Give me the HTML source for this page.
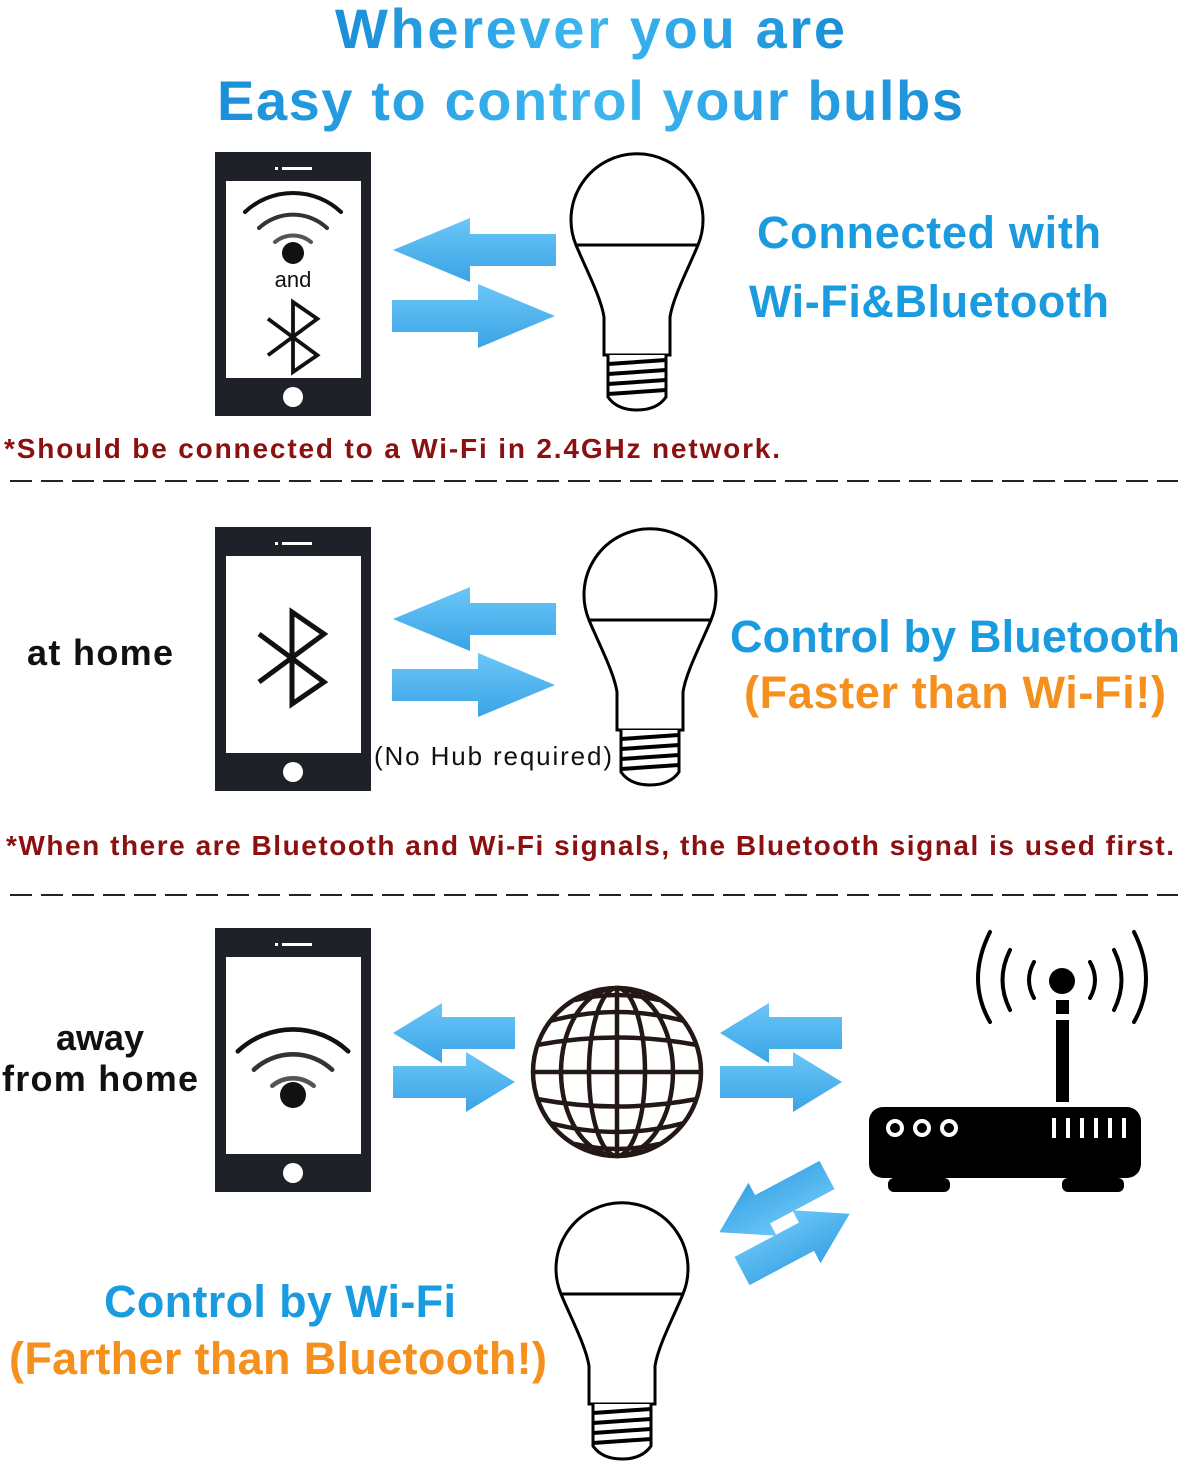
<!DOCTYPE html>
<html><head><meta charset="utf-8"><style>
html,body{margin:0;padding:0;background:#fff}
svg{display:block}
text{font-family:"Liberation Sans","DejaVu Sans",sans-serif;font-weight:bold}
</style></head><body>
<svg width="1182" height="1466" viewBox="0 0 1182 1466" xmlns="http://www.w3.org/2000/svg">
<defs>
<linearGradient id="ag" x1="0" y1="0" x2="0" y2="1"><stop offset="0" stop-color="#6cc6f7"/><stop offset="1" stop-color="#3aa4e6"/></linearGradient>
<linearGradient id="tg" x1="0" y1="0" x2="1" y2="0"><stop offset="0" stop-color="#1a8fd8"/><stop offset="0.5" stop-color="#3db7f0"/><stop offset="1" stop-color="#1a8fd8"/></linearGradient>
<g id="arR"><path d="M0,-16 L86,-16 L86,-32 L163,0 L86,32 L86,16 L0,16 Z" fill="url(#ag)"/></g>
<g id="arRs"><path d="M0,-16 L73,-16 L73,-30 L122,0 L73,30 L73,16 L0,16 Z" fill="url(#ag)"/></g>
<g id="phone">
<rect x="0" y="0" width="156" height="264" fill="#1e2127"/>
<rect x="11" y="29" width="135" height="197" fill="#fff"/>
<rect x="67" y="15" width="30" height="3" fill="#fff"/><rect x="60" y="15" width="3" height="3" fill="#fff"/>
<circle cx="78" cy="245" r="10" fill="#fff"/>
</g>
<g id="bulb" fill="none" stroke="#000" stroke-width="3">
<path d="M-61,93 A66,66 0 1 1 61,93 C52,115 36,145 33,165 L33,203 L-33,203 L-33,165 C-36,145 -52,115 -61,93 Z" fill="#fff"/>
<line x1="-61" y1="93" x2="61" y2="93"/>
<path d="M-29,203 L-29,245 Q-20,258 0,258 Q20,258 29,245 L29,203" fill="#fff"/>
<line x1="-29" y1="212" x2="29" y2="208" stroke-width="4"/>
<line x1="-29" y1="222" x2="29" y2="218" stroke-width="4"/>
<line x1="-29" y1="232" x2="29" y2="228" stroke-width="4"/>
<line x1="-29" y1="242" x2="29" y2="238" stroke-width="4"/>
</g>
<g id="bt" fill="none" stroke="#111" stroke-width="5" stroke-linejoin="miter">
<path d="M-33,-24 L32,24 L0,46 L0,-46 L32,-24 L-33,24"/>
</g>
<g id="wifi" fill="none" stroke="#111" stroke-linecap="round">
<path d="M-48,-18 A70,70 0 0 1 48,-18" stroke-width="4"/>
<path d="M-34,-2 A50,50 0 0 1 34,-2" stroke-width="4" stroke="#333"/>
<path d="M-18,12 A28,28 0 0 1 18,12" stroke-width="4" stroke="#555"/>
</g>
</defs>

<text x="590" y="48" font-size="56" fill="url(#tg)" text-anchor="middle" textLength="510">Wherever you are</text>
<text x="590" y="120" font-size="56" fill="url(#tg)" text-anchor="middle" textLength="746">Easy to control your bulbs</text>

<use href="#phone" x="215" y="152"/>
<g transform="translate(293,230)"><use href="#wifi"/></g>
<circle cx="293" cy="253" r="11" fill="#111"/>
<text x="293" y="287" font-size="22" text-anchor="middle" fill="#111" style="font-weight:normal">and</text>
<g transform="translate(293,337) scale(0.76)"><use href="#bt"/></g>
<g transform="translate(556,250) scale(-1,1)"><use href="#arR"/></g>
<g transform="translate(392,316)"><use href="#arR"/></g>
<use href="#bulb" x="637" y="152"/>
<text x="929" y="248" font-size="45" fill="#1a9be0" text-anchor="middle" textLength="344">Connected with</text>
<text x="929" y="317" font-size="45" fill="#1a9be0" text-anchor="middle" textLength="360">Wi-Fi&amp;Bluetooth</text>
<text x="4" y="458" font-size="28" fill="#8b1010" textLength="776">*Should be connected to a Wi-Fi in 2.4GHz network.</text>
<line x1="10" y1="481" x2="1178" y2="481" stroke="#222" stroke-width="2" stroke-dasharray="22,9"/>

<text x="100" y="665" font-size="36" fill="#111" text-anchor="middle" textLength="146">at home</text>
<use href="#phone" x="215" y="527"/>
<g transform="translate(292,658)"><use href="#bt"/></g>
<g transform="translate(556,619) scale(-1,1)"><use href="#arR"/></g>
<g transform="translate(392,685)"><use href="#arR"/></g>
<text x="374" y="765" font-size="26" fill="#111" style="font-weight:normal" textLength="238">(No Hub required)</text>
<use href="#bulb" x="650" y="527"/>
<text x="955" y="652" font-size="45" fill="#1a9be0" text-anchor="middle" textLength="450">Control by Bluetooth</text>
<text x="955" y="708" font-size="45" fill="#f5901e" text-anchor="middle" textLength="422">(Faster than Wi-Fi!)</text>
<text x="6" y="855" font-size="28" fill="#8b1010" textLength="1168">*When there are Bluetooth and Wi-Fi signals, the Bluetooth signal is used first.</text>
<line x1="10" y1="895" x2="1178" y2="895" stroke="#222" stroke-width="2" stroke-dasharray="22,9"/>

<text x="100" y="1050" font-size="36" fill="#111" text-anchor="middle">away</text>
<text x="100" y="1091" font-size="36" fill="#111" text-anchor="middle" textLength="196">from home</text>
<use href="#phone" x="215" y="928"/>
<g transform="translate(293,1072) scale(1.15)"><use href="#wifi"/></g>
<circle cx="293" cy="1095" r="13" fill="#111"/>
<g transform="translate(515,1033) scale(-1,1)"><use href="#arRs"/></g>
<g transform="translate(393,1082)"><use href="#arRs"/></g>
<g transform="translate(842,1033) scale(-1,1)"><use href="#arRs"/></g>
<g transform="translate(720,1082)"><use href="#arRs"/></g>
<g fill="none" stroke="#231815" stroke-width="4.5">
<circle cx="617" cy="1072" r="84"/>
<line x1="533" y1="1072" x2="701" y2="1072"/>
<line x1="617" y1="988" x2="617" y2="1156"/>
<ellipse cx="617" cy="1072" rx="28" ry="84"/>
<ellipse cx="617" cy="1072" rx="56" ry="84"/>
<path d="M550,1021 Q617,1003 684,1021"/>
<path d="M537,1045 Q617,1030 697,1045"/>
<path d="M537,1099 Q617,1114 697,1099"/>
<path d="M550,1123 Q617,1141 684,1123"/>
<path d="M575,1000 Q617,990 659,1000"/>
<path d="M575,1144 Q617,1154 659,1144"/>
</g>
<g transform="translate(827,1175) rotate(152)"><use href="#arRs"/></g>
<g transform="translate(742,1271) rotate(-28)"><use href="#arRs"/></g>
<rect x="869" y="1107" width="272" height="71" rx="14" fill="#000"/>
<rect x="888" y="1178" width="62" height="14" rx="6" fill="#000"/>
<rect x="1062" y="1178" width="62" height="14" rx="6" fill="#000"/>
<g fill="none" stroke="#fff" stroke-width="4"><circle cx="895" cy="1128" r="7"/><circle cx="922" cy="1128" r="7"/><circle cx="949" cy="1128" r="7"/></g>
<g fill="#fff"><rect x="1052" y="1118" width="4" height="20"/><rect x="1066" y="1118" width="4" height="20"/><rect x="1080" y="1118" width="4" height="20"/><rect x="1094" y="1118" width="4" height="20"/><rect x="1108" y="1118" width="4" height="20"/><rect x="1122" y="1118" width="4" height="20"/></g>
<rect x="1056" y="1020" width="13" height="82" fill="#000"/>
<rect x="1056" y="1000" width="13" height="14" fill="#000"/>
<circle cx="1062" cy="981" r="13" fill="#000"/>
<g fill="none" stroke="#000" stroke-width="4" stroke-linecap="round">
<path d="M1034,962 Q1024,980 1034,998"/><path d="M1090,962 Q1100,980 1090,998"/>
<path d="M1010,950 Q995,980 1010,1010"/><path d="M1114,950 Q1129,980 1114,1010"/>
<path d="M990,932 Q966,980 990,1022"/><path d="M1134,932 Q1158,980 1134,1022"/>
</g>
<use href="#bulb" x="622" y="1201"/>
<text x="280" y="1317" font-size="45" fill="#1a9be0" text-anchor="middle" textLength="352">Control by Wi-Fi</text>
<text x="278" y="1374" font-size="45" fill="#f5901e" text-anchor="middle" textLength="538">(Farther than Bluetooth!)</text>
</svg>
</body></html>
